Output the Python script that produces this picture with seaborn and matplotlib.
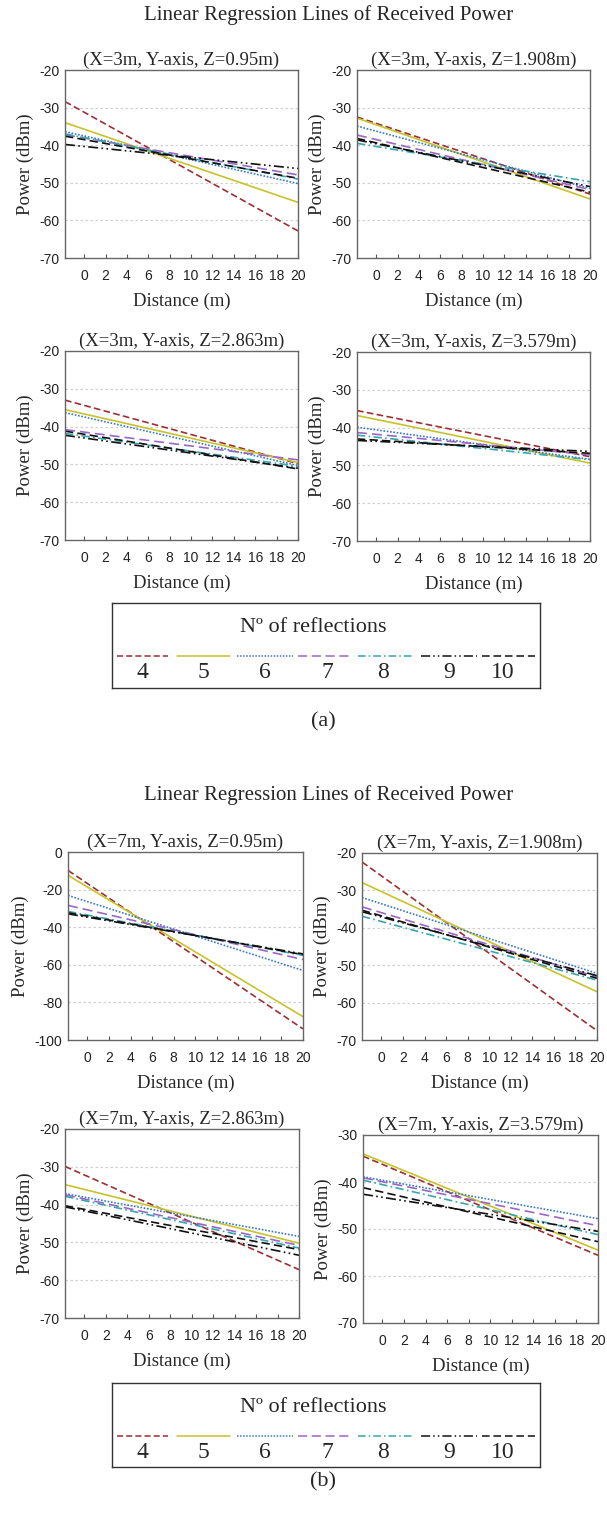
import numpy as np
import pandas as pd
import matplotlib
matplotlib.use('Agg')
import matplotlib.pyplot as plt
import seaborn as sns

# ---------------- data ----------------
reflections = [4, 5, 6, 7, 8, 9, 10]
x_range = [-1.8, 20]
x_ticks = [0, 2, 4, 6, 8, 10, 12, 14, 16, 18, 20]

# (a) X = 3 m : power (dBm) at the left (x=-1.8) and right (x=20) ends of each regression line
a1_start = [-28.4, -34.0, -36.4, -37.2, -37.0, -39.8, -37.6]
a1_end = [-62.8, -55.2, -50.2, -47.9, -49.0, -46.2, -48.8]
a2_start = [-32.5, -32.8, -34.9, -37.3, -39.5, -38.6, -38.2]
a2_end = [-53.0, -54.3, -51.5, -51.8, -49.7, -51.0, -52.5]
a3_start = [-33.0, -35.5, -36.3, -40.8, -41.8, -42.3, -41.2]
a3_end = [-49.8, -49.5, -50.3, -48.8, -50.5, -51.0, -51.2]
a4_start = [-35.5, -36.8, -39.9, -41.3, -42.0, -43.4, -43.0]
a4_end = [-47.7, -49.4, -48.4, -47.2, -48.5, -46.3, -46.8]

# (b) X = 7 m
b1_start = [-9.8, -12.4, -23.1, -28.4, -31.6, -32.9, -32.3]
b1_end = [-94.1, -87.6, -63.0, -57.2, -55.0, -54.2, -54.6]
b2_start = [-22.4, -27.9, -31.9, -34.4, -36.9, -35.7, -35.3]
b2_end = [-67.5, -57.1, -52.2, -53.1, -54.0, -52.8, -53.5]
b3_start = [-29.9, -34.7, -37.1, -37.4, -37.8, -40.6, -40.3]
b3_end = [-57.2, -50.2, -48.4, -50.8, -51.5, -53.4, -51.9]
b4_start = [-34.5, -34.0, -38.9, -39.1, -39.6, -42.6, -41.2]
b4_end = [-55.6, -54.5, -47.8, -49.3, -51.2, -50.5, -52.7]

titles_a = ["(X=3m, Y-axis, Z=0.95m)", "(X=3m, Y-axis, Z=1.908m)",
            "(X=3m, Y-axis, Z=2.863m)", "(X=3m, Y-axis, Z=3.579m)"]
titles_b = ["(X=7m, Y-axis, Z=0.95m)", "(X=7m, Y-axis, Z=1.908m)",
            "(X=7m, Y-axis, Z=2.863m)", "(X=7m, Y-axis, Z=3.579m)"]
main_title = "Linear Regression Lines of Received Power"
legend_title = "Nº of reflections"

# ---------------- style ----------------
sns.set_theme(style="white")
plt.rcParams['font.family'] = ['Liberation Serif', 'DejaVu Serif']
SANS = ['Liberation Sans', 'DejaVu Sans']
SERIF = ['Liberation Serif', 'DejaVu Serif']

colors = {4: '#9B2F35', 5: '#C8C22A', 6: '#3A78C4', 7: '#9A66C8',
          8: '#35A6AE', 9: '#111111', 10: '#111111'}
dashes = {4: (4, 2), 5: "", 6: (1, 1), 7: (6, 3), 8: (5, 2, 1, 2),
          9: (6, 2, 1, 2, 1, 2), 10: (5, 2.5)}

W, H = 607, 1513
fig = plt.figure(figsize=(W / 100, H / 100), dpi=100)
fig.patch.set_facecolor('white')


def box(x0, y0, x1, y1):
    return [x0 / W, 1 - y1 / H, (x1 - x0) / W, (y1 - y0) / H]


def panel(rect, title, starts, ends, ylim, yticks):
    ax = fig.add_axes(box(*rect))
    rows = []
    for r, s, e in zip(reflections, starts, ends):
        rows.append({'Distance': x_range[0], 'Power': s, 'Reflections': r})
        rows.append({'Distance': x_range[1], 'Power': e, 'Reflections': r})
    df = pd.DataFrame(rows)
    for y in yticks[1:-1]:
        ax.axhline(y, color='#d0d0d0', lw=0.9, ls=(0, (2, 2)), zorder=0)
    sns.lineplot(data=df, x='Distance', y='Power', hue='Reflections',
                 style='Reflections', palette=colors, dashes=dashes,
                 legend=False, ax=ax, linewidth=1.2)
    ax.set_xlim(*x_range)
    ax.set_ylim(*ylim)
    ax.set_xticks(x_ticks)
    ax.set_yticks(yticks)
    ax.set_xticklabels([str(t) for t in x_ticks], fontfamily=SANS, fontsize=10,
                       color='#222222')
    ax.set_yticklabels([str(t) for t in yticks], fontfamily=SANS, fontsize=10,
                       color='#222222')
    ax.tick_params(axis='x', direction='in', length=3, width=0.8, pad=8,
                   color='#555555', bottom=True)
    ax.tick_params(axis='y', length=0, pad=4)
    for sp in ax.spines.values():
        sp.set_color('#666666')
        sp.set_linewidth(1.0)
    ax.set_xlabel("Distance (m)", fontfamily=SERIF, fontsize=13.5, labelpad=7)
    ax.set_ylabel("Power (dBm)", fontfamily=SERIF, fontsize=13.5, labelpad=4)
    ax.set_title(title, fontfamily=SERIF, fontsize=13.5, pad=4)
    ax.set_facecolor('white')
    return ax


def legend_box(y0, y1):
    ax = fig.add_axes(box(112, y0, 540, y1))
    ax.set_xlim(112, 540)
    ax.set_ylim(y1, y0)
    ax.set_xticks([])
    ax.set_yticks([])
    for sp in ax.spines.values():
        sp.set_color('#333333')
        sp.set_linewidth(1.0)
    ax.text(313, y0 + 24, legend_title, ha='center', va='center',
            fontfamily=SERIF, fontsize=16)
    seg = [(117, 168), (177, 230), (237, 293), (298, 353), (358, 413),
           (421, 477), (482, 535)]
    labx = [142, 203, 265, 327, 383, 449, 503]
    for r, (s0, s1), lx in zip(reflections, seg, labx):
        d = dashes[r]
        ls = '-' if d == "" else (0, d)
        ax.plot([s0, s1], [y0 + 53, y0 + 53], color=colors[r], ls=ls, lw=1.1)
        ax.text(lx, y0 + 69, str(r), ha='center', va='center',
                fontfamily=SERIF, fontsize=17)
    return ax


yt_a = [-70, -60, -50, -40, -30, -20]

# (a)
fig.text(329 / W, 1 - 15 / H, main_title, ha='center', va='center',
         fontfamily=SERIF, fontsize=15)
panel((65, 70, 298, 258), titles_a[0], a1_start, a1_end, (-70, -20), yt_a)
panel((357, 70, 590, 258), titles_a[1], a2_start, a2_end, (-70, -20), yt_a)
panel((65, 351, 298, 540), titles_a[2], a3_start, a3_end, (-70, -20), yt_a)
panel((357, 352, 590, 541), titles_a[3], a4_start, a4_end, (-70, -20), yt_a)
legend_box(603, 688)
fig.text(323 / W, 1 - 722 / H, "(a)", ha='center', va='center',
         fontfamily=SERIF, fontsize=16)

# (b)
fig.text(329 / W, 1 - 795 / H, main_title, ha='center', va='center',
         fontfamily=SERIF, fontsize=15)
panel((68, 852, 303, 1040), titles_b[0], b1_start, b1_end, (-100, 0),
      [-100, -80, -60, -40, -20, 0])
panel((362, 853, 597, 1040), titles_b[1], b2_start, b2_end, (-70, -20), yt_a)
panel((65, 1129, 299, 1318), titles_b[2], b3_start, b3_end, (-70, -20), yt_a)
panel((363, 1135, 598, 1323), titles_b[3], b4_start, b4_end, (-70, -30),
      [-70, -60, -50, -40, -30])
legend_box(1383, 1467)
fig.text(323 / W, 1 - 1482 / H, "(b)", ha='center', va='center',
         fontfamily=SERIF, fontsize=16)

fig.savefig('out.png', dpi=100, facecolor='white')
